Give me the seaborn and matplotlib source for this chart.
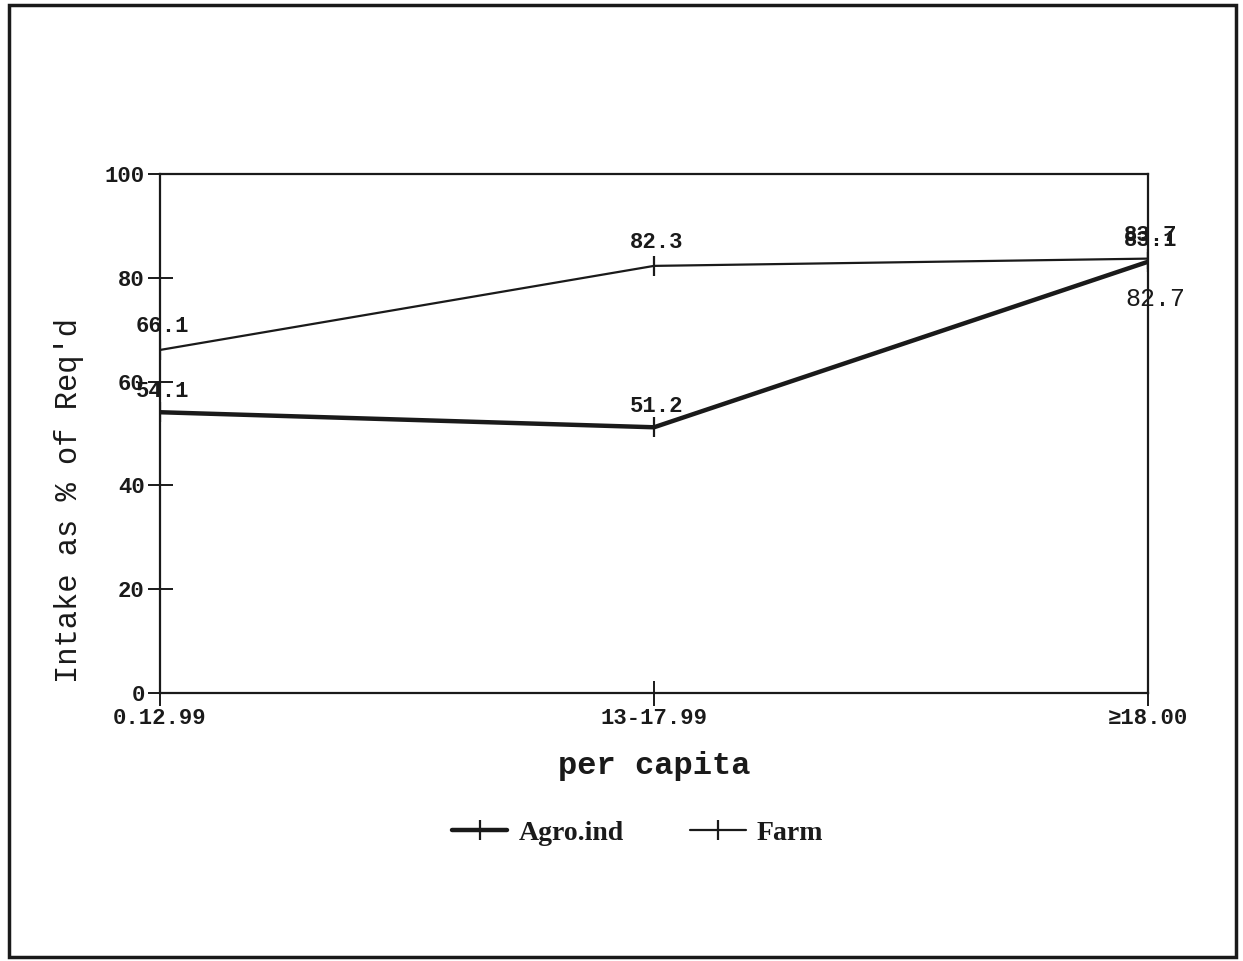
import pandas as pd
import numpy as np
import seaborn as sns
import matplotlib.pyplot as plt
from matplotlib.patches import Rectangle

sns.set_theme(style="white")

categories = ["0.12.99", "13-17.99", "\u226518.00"]
agro = [54.1, 51.2, 83.1]
farm = [66.1, 82.3, 83.7]
series = ["Agro.ind", "Farm"]
yticks = [0, 20, 40, 60, 80, 100]

df = pd.DataFrame({
    "pos": list(range(len(categories))) * 2,
    "value": agro + farm,
    "Group": [series[0]] * len(agro) + [series[1]] * len(farm),
})

fig = plt.figure(figsize=(12.43, 9.61), dpi=100)
ax = fig.add_axes([0.1287, 0.2789, 0.7949, 0.54])

ink = "#1a1a1a"
widths = {"Agro.ind": 3.2, "Farm": 1.6}
for name in series:
    sub = df[df["Group"] == name]
    sns.lineplot(data=sub, x="pos", y="value", ax=ax, color=ink,
                 linewidth=widths[name], marker="|", markersize=15,
                 markeredgewidth=1.6, markeredgecolor=ink, label=name)

ax.set_xlim(0, 2)
ax.set_ylim(0, 100)
ax.set_xticks(range(len(categories)))
ax.set_xticklabels(categories)
ax.set_yticks(yticks)
for sp in ax.spines.values():
    sp.set_color(ink)
    sp.set_linewidth(1.6)
ax.tick_params(axis="both", direction="inout", length=18, width=1.4,
               color=ink, labelcolor=ink, pad=2, bottom=True, left=True)
for lab in ax.get_xticklabels() + ax.get_yticklabels():
    lab.set_fontfamily("Liberation Mono")
    lab.set_fontweight("bold")
    lab.set_fontsize(16)

ax.set_xlabel("per capita", fontsize=23, family="Liberation Mono",
              fontweight="bold", color=ink, labelpad=16)
ax.set_ylabel("Intake as % of Req'd", fontsize=22, family="Liberation Mono",
              color=ink)
ax.yaxis.set_label_coords(-0.077, 0.37)

# value labels
lab_kw = dict(ha="center", va="center", fontsize=16, family="Liberation Mono",
              fontweight="bold", color=ink)
for i, v in enumerate(farm):
    ax.annotate(f"{v}", (i, v), xytext=(2, 17), textcoords="offset points", **lab_kw)
for i, v in enumerate(agro):
    ax.annotate(f"{v}", (i, v), xytext=(2, 15), textcoords="offset points", **lab_kw)
ax.annotate("82.7", (2, agro[2]), xytext=(5, -27), textcoords="offset points",
            ha="center", va="center", fontsize=18, family="Liberation Mono",
            color=ink)

leg = ax.legend(loc="center", bbox_to_anchor=(0.513, 0.133),
                bbox_transform=fig.transFigure, ncol=2, frameon=False,
                handlelength=2.0, columnspacing=2.4, handletextpad=0.4,
                prop={"family": "Liberation Serif", "weight": "bold", "size": 20})
for t in leg.get_texts():
    t.set_color(ink)

fig.patches.append(Rectangle((0.007, 0.004), 0.987, 0.991, transform=fig.transFigure,
                             fill=False, edgecolor=ink, linewidth=2.5))

fig.savefig("out.png", dpi=100, facecolor="white")
